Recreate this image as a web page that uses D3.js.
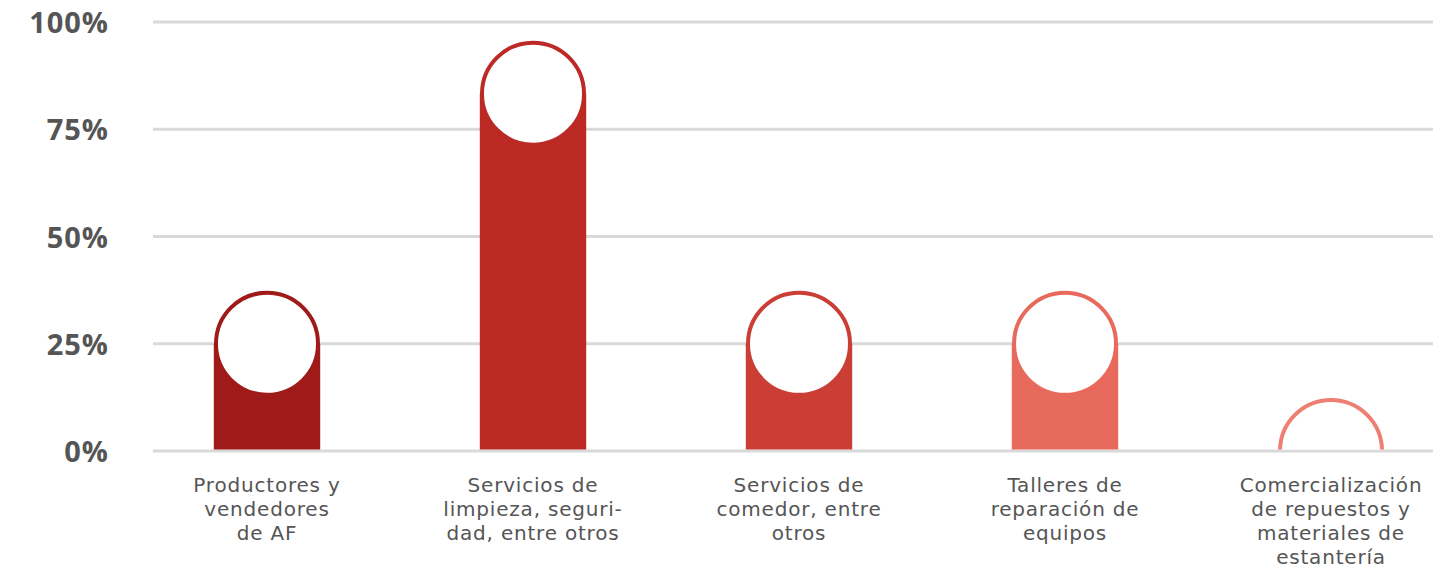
<!DOCTYPE html>
<html>
<head>
<meta charset="utf-8">
<script src="https://cdn.jsdelivr.net/npm/d3@7"></script>
<style>
  body { margin: 0; background: #fff; }
</style>
</head>
<body>
<script>
// categories and values (share of respondents)
var categories = [
  ["Productores y", "vendedores", "de AF"],
  ["Servicios de", "limpieza, seguri-", "dad, entre otros"],
  ["Servicios de", "comedor, entre", "otros"],
  ["Talleres de", "reparación de", "equipos"],
  ["Comercialización", "de repuestos y", "materiales de", "estantería"]
];
var values = [0.25, 0.833, 0.25, 0.25, 0];
var colors = ["#9f1b1a", "#bb2a24", "#cb3e35", "#e86a5c", "#ee8073"];
var yTicks = [0, 0.25, 0.5, 0.75, 1];

var width = 1441, height = 570;
var plot = {left: 153, right: 1433, top: 22, bottom: 451};

var svg = d3.select("body").append("svg").attr("width", width).attr("height", height);

var y = d3.scaleLinear().domain([0, 1]).range([plot.bottom, plot.top]);
var x = d3.scaleBand()
  .domain(d3.range(values.length))
  .range([134, 1464])
  .paddingInner(0.6)
  .paddingOuter(0.3);

// gridlines
svg.append("g").selectAll("line")
  .data(yTicks)
  .join("line")
  .attr("x1", plot.left).attr("x2", plot.right)
  .attr("y1", function(d){ return y(d); })
  .attr("y2", function(d){ return y(d); })
  .attr("stroke", "#d9d9d9")
  .attr("stroke-width", 3);

// y tick labels
svg.append("g").selectAll("text")
  .data(yTicks)
  .join("text")
  .attr("x", 109)
  .attr("y", function(d){ return y(d); })
  .attr("dy", "0.38em")
  .attr("text-anchor", "end")
  .attr("font-family", "'Open Sans', sans-serif")
  .attr("font-weight", 700)
  .attr("font-size", 29)
  .attr("letter-spacing", 1)
  .attr("fill", "#555")
  .text(function(d){ return d3.format(".0%")(d); });

// clip everything above the baseline
svg.append("clipPath").attr("id", "above")
  .append("rect")
  .attr("x", 0).attr("y", 0).attr("width", width).attr("height", plot.bottom - 1.5);

var r = 51;
var bars = svg.append("g").attr("clip-path", "url(#above)").selectAll("g")
  .data(values)
  .join("g");

bars.append("rect")
  .attr("x", function(d, i){ return x(i); })
  .attr("y", function(d){ return y(d); })
  .attr("width", x.bandwidth())
  .attr("height", function(d){ return y(0) - y(d); })
  .attr("fill", function(d, i){ return colors[i]; });

bars.append("circle")
  .attr("cx", function(d, i){ return x(i) + x.bandwidth() / 2; })
  .attr("cy", function(d){ return y(d); })
  .attr("r", r)
  .attr("fill", "#fff")
  .attr("stroke", function(d, i){ return colors[i]; })
  .attr("stroke-width", 4);

// category labels, one text per line
var lines = [];
categories.forEach(function(c, i){
  c.forEach(function(t, j){ lines.push({t: t, i: i, j: j}); });
});

svg.append("g").selectAll("text")
  .data(lines)
  .join("text")
  .attr("x", function(d){ return x(d.i) + x.bandwidth() / 2; })
  .attr("y", function(d){ return 492 + d.j * 24; })
  .attr("text-anchor", "middle")
  .attr("font-family", "'DejaVu Sans', sans-serif")
  .attr("font-size", 20)
  .attr("letter-spacing", 0.8)
  .attr("fill", "#555")
  .text(function(d){ return d.t; });
</script>
</body>
</html>
